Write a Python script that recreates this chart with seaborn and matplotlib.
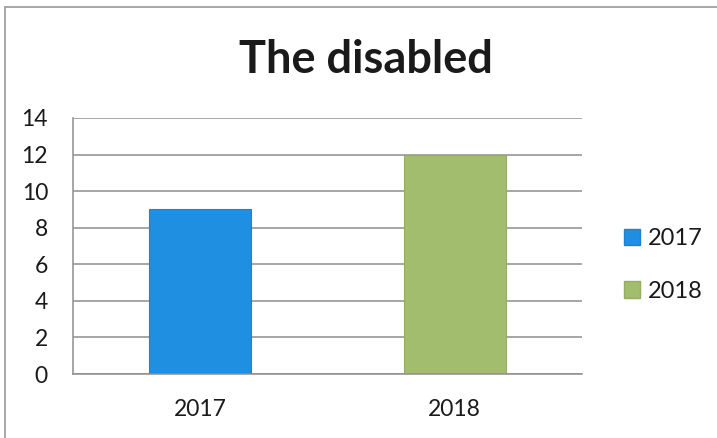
import matplotlib
matplotlib.use("Agg")
import matplotlib.pyplot as plt
import seaborn as sns
import pandas as pd
from matplotlib.patches import Patch
from matplotlib.lines import Line2D

categories = ["2017", "2018"]
values = [9, 12]
colors = ["#1F8FE2", "#A2BD6E"]
edge_colors = ["#1A84D0", "#93AE60"]
yticks = [0, 2, 4, 6, 8, 10, 12, 14]

sns.set_theme(style="white")
plt.rcParams["font.family"] = ["Lato", "DejaVu Sans"]

df = pd.DataFrame({"year": categories, "value": values})

fig = plt.figure(figsize=(7.17, 4.38), dpi=100)
ax = fig.add_axes([0.1018, 0.1461, 0.7099, 0.5845])

sns.barplot(data=df, x="year", y="value", hue="year", palette=colors,
            dodge=False, width=0.4, ax=ax, legend=False, saturation=1)
for p, ec in zip(ax.patches, edge_colors):
    p.set_edgecolor(ec)
    p.set_linewidth(0.8)

ax.set_ylim(0, 14)
ax.set_xlim(-0.5, 1.5)
ax.set_yticks(yticks)
ax.set_yticklabels([str(v) for v in yticks])
ax.yaxis.grid(True, color="#8E8E8E", linewidth=1.1)
ax.set_axisbelow(True)
for s in ["top", "right"]:
    ax.spines[s].set_visible(False)
for s in ["left", "bottom"]:
    ax.spines[s].set_color("#8E8E8E")
    ax.spines[s].set_linewidth(1.1)
ax.set_xlabel("")
ax.set_ylabel("")
ax.tick_params(axis="y", length=6, color="#8E8E8E", width=1.1,
               labelsize=16.5, labelcolor="#1A1A1A", pad=12)
ax.tick_params(axis="x", length=0, labelsize=16.5, labelcolor="#1A1A1A", pad=18)
ax.set_xticks([-0.5, 0.5, 1.5], minor=True)
ax.tick_params(axis="x", which="minor", length=6, color="#8E8E8E", width=1.1)

fig.text(0.511, 0.862, "The disabled", ha="center", va="center",
         fontsize=32.5, fontweight="bold", color="#1A1A1A")

handles = [Patch(facecolor=colors[0], edgecolor=edge_colors[0]),
           Patch(facecolor=colors[1], edgecolor=edge_colors[1])]
fig.legend(handles, categories, loc="center left", bbox_to_anchor=(0.870, 0.395),
           frameon=False, fontsize=17, handlelength=0.7, handleheight=0.7,
           handletextpad=0.3, labelspacing=1.35, labelcolor="#1A1A1A",
           borderpad=0, borderaxespad=0)

# outer frame lines (top and left)
fig.add_artist(Line2D([5/717, 1.0], [1 - 7/438, 1 - 7/438],
                      transform=fig.transFigure, color="#9A9A9A", linewidth=1.2))
fig.add_artist(Line2D([5/717, 5/717], [0, 1 - 7/438],
                      transform=fig.transFigure, color="#9A9A9A", linewidth=1.2))

fig.savefig("out.png", dpi=100, facecolor="white")
